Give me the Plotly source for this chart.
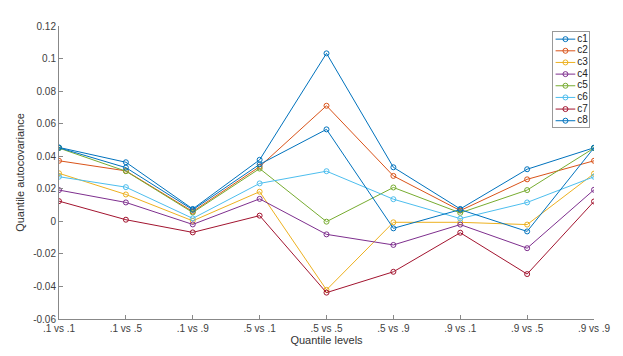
import plotly.graph_objects as go

levels = [".1 vs .1", ".1 vs .5", ".1 vs .9", ".5 vs .1", ".5 vs .5",
          ".5 vs .9", ".9 vs .1", ".9 vs .5", ".9 vs .9"]

c1 = [0.0454, 0.0363, 0.0076, 0.0378, 0.1032, 0.0332, 0.0076, 0.0320, 0.0452]
c2 = [0.0372, 0.0310, 0.0060, 0.0336, 0.0710, 0.0279, 0.0066, 0.0258, 0.0372]
c3 = [0.0295, 0.0165, 0.0003, 0.0182, -0.0421, -0.0006, -0.0006, -0.0020, 0.0293]
c4 = [0.0192, 0.0116, -0.0019, 0.0138, -0.0080, -0.0145, -0.0020, -0.0165, 0.0194]
c5 = [0.0450, 0.0308, 0.0054, 0.0324, -0.0002, 0.0208, 0.0052, 0.0192, 0.0450]
c6 = [0.0274, 0.0210, 0.0018, 0.0233, 0.0308, 0.0136, 0.0017, 0.0116, 0.0274]
c7 = [0.0124, 0.0010, -0.0068, 0.0035, -0.0438, -0.0310, -0.0070, -0.0324, 0.0122]
c8 = [0.0452, 0.0330, 0.0071, 0.0350, 0.0565, -0.0043, 0.0072, -0.0062, 0.0452]

names = ["c1", "c2", "c3", "c4", "c5", "c6", "c7", "c8"]
series = [c1, c2, c3, c4, c5, c6, c7, c8]

y_ticks = [-0.06, -0.04, -0.02, 0, 0.02, 0.04, 0.06, 0.08, 0.1, 0.12]
y_labels = ["-0.06", "-0.04", "-0.02", "0", "0.02", "0.04", "0.06", "0.08", "0.1", "0.12"]

# matlab default line colours (they repeat after 7)
colors = ["#0072BD", "#D95319", "#EDB120", "#7E2F8E", "#77AC30", "#4DBEEE", "#A2142F", "#0072BD"]

fig = go.Figure()
for i in range(len(series)):
    fig.add_trace(go.Scatter(x=levels, y=series[i], name=names[i], mode="lines+markers",
                             line=dict(color=colors[i], width=1),
                             marker=dict(symbol="circle-open", size=5, color=colors[i],
                                         line=dict(width=1))))

# compact matlab-like legend drawn in a small inset axes (plotly legend rows are too tall)
for i in range(len(series)):
    fig.add_trace(go.Scatter(x=[3, 23], y=[i, i], mode="lines", xaxis="x2", yaxis="y2",
                             line=dict(color=colors[i], width=1), hoverinfo="skip"))
    fig.add_trace(go.Scatter(x=[13], y=[i], mode="markers", xaxis="x2", yaxis="y2",
                             marker=dict(symbol="circle-open", size=5, color=colors[i],
                                         line=dict(width=1)), hoverinfo="skip"))
fig.add_trace(go.Scatter(x=[25] * len(names), y=list(range(len(names))), text=names,
                         mode="text", textposition="middle right", xaxis="x2", yaxis="y2",
                         textfont=dict(family="Liberation Sans", size=10, color="#222222"),
                         hoverinfo="skip"))

axis_font = dict(family="Liberation Sans", size=10, color="#404040")

# page body has an 8px margin, so the figure is a bit smaller and shifted
fig.update_layout(
    width=615, height=348,
    margin=dict(l=44, r=20, t=18, b=31),
    plot_bgcolor="white", paper_bgcolor="white",
    font=axis_font,
    showlegend=False,
    xaxis=dict(domain=[0, 1], type="category", range=[0, 8], showline=True,
               linecolor="#888888", linewidth=1, ticks="inside", ticklen=4,
               tickcolor="#888888", showgrid=False, zeroline=False, tickfont=axis_font,
               title=dict(text="Quantile levels", font=dict(size=11, color="#333333"),
                          standoff=2)),
    yaxis=dict(domain=[0, 1], range=[-0.06, 0.12], tickvals=y_ticks, ticktext=y_labels,
               showline=True, linecolor="#888888", linewidth=1, ticks="inside", ticklen=4,
               tickcolor="#888888", showgrid=False, zeroline=False, tickfont=axis_font,
               title=dict(text="Quantile autocovariance", font=dict(size=11, color="#333333"),
                          standoff=6)),
    xaxis2=dict(domain=[0.9227, 0.9908], anchor="y2", range=[0, 37], showline=True,
                mirror=True, linecolor="#999999", linewidth=1, showgrid=False,
                zeroline=False, showticklabels=False, ticks=""),
    yaxis2=dict(domain=[0.656, 0.979], anchor="x2", range=[7.52, -0.6], showline=True,
                mirror=True, linecolor="#999999", linewidth=1, showgrid=False,
                zeroline=False, showticklabels=False, ticks=""),
)

fig.write_html("out.html")
